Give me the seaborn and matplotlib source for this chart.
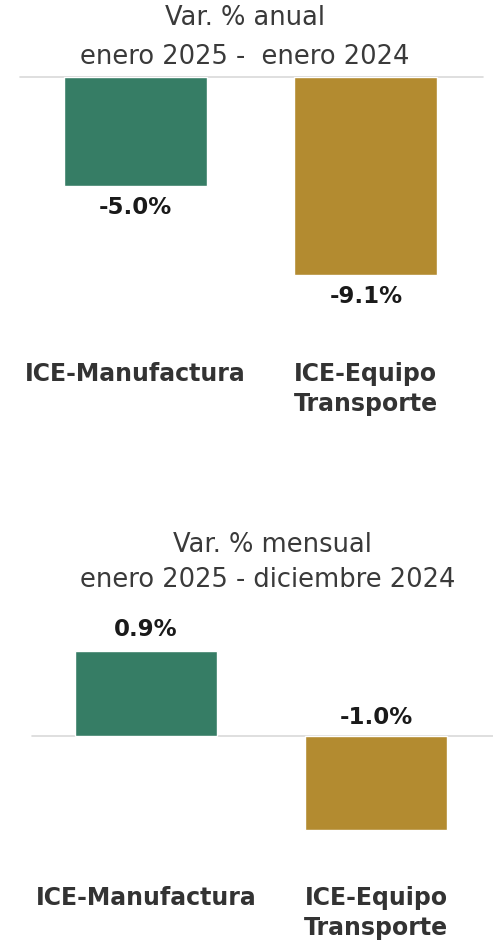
import matplotlib
matplotlib.use("Agg")
import matplotlib.pyplot as plt
import matplotlib.transforms as mtransforms
import seaborn as sns
import pandas as pd

# ---- data ----
categories = ["ICE-Manufactura", "ICE-Equipo\nTransporte"]
annual_values = [-5.0, -9.1]
monthly_values = [0.9, -1.0]
annual_title = ["Var. % anual", "enero 2025 -  enero 2024"]
monthly_title = ["Var. % mensual", "enero 2025 - diciembre 2024"]
colors = ["#367d65", "#b38b30"]

sns.set_theme(style="white")
FONT = "DejaVu Sans"
plt.rcParams["font.family"] = [FONT]

W, H = 493, 944
fig = plt.figure(figsize=(W / 100, H / 100), dpi=100)
fig.patch.set_facecolor("white")


def rect(left, top, right, bottom):
    return [left / W, 1 - bottom / H, (right - left) / W, (bottom - top) / H]


def fy(py):
    return 1 - py / H


def panel(values, box, xlim, ylim, label_mode, cat_y, title, title_pos):
    ax = fig.add_axes(rect(*box))
    df = pd.DataFrame({"cat": categories, "val": values})
    sns.barplot(data=df, x="cat", y="val", hue="cat", palette=colors,
                width=0.62, ax=ax, legend=False, saturation=1)
    ax.set_xlim(*xlim)
    ax.set_ylim(*ylim)
    ax.axhline(0, color="#d9d9d9", lw=1.2, clip_on=False, zorder=0)
    ax.axis("off")
    for i, v in enumerate(values):
        if label_mode == "end":
            anchor, off = v, (-22 if v < 0 else 21)
        else:
            anchor, off = max(v, 0), (21 if v > 0 else 18)
        ax.annotate(f"{v:.1f}%", xy=(i, anchor), xytext=(0, off),
                    textcoords="offset pixels", ha="center", va="center",
                    fontsize=16.5, fontweight="bold", color="#1a1a1a",
                    annotation_clip=False)
    trans = mtransforms.blended_transform_factory(ax.transData, fig.transFigure)
    for i, c in enumerate(categories):
        nlines = c.count("\n") + 1
        y = cat_y + (nlines - 1) * 15
        ax.text(i, fy(y), c, transform=trans, ha="center", va="center",
                fontsize=17, fontweight="bold", color="#333333",
                linespacing=1.32)
    for t, (x, y) in zip(title, title_pos):
        fig.text(x / W, fy(y), t, ha="center", va="center", fontsize=18.5,
                 color="#3a3a3a")
    return ax


# top panel: baseline at 77 px, 21.76 px per %
panel(annual_values, (20, 77, 483, 340), (-0.501, 1.508), (-12.09, 0),
      "end", 374, annual_title, [(245, 18), (245, 57)])

# bottom panel: baseline at 736 px, 94.4 px per %
panel(monthly_values, (32, 600, 493, 870), (-0.496, 1.509), (-1.42, 1.44),
      "top", 898, monthly_title, [(272, 545), (268, 580)])

fig.savefig("out.png", dpi=100, facecolor="white")
